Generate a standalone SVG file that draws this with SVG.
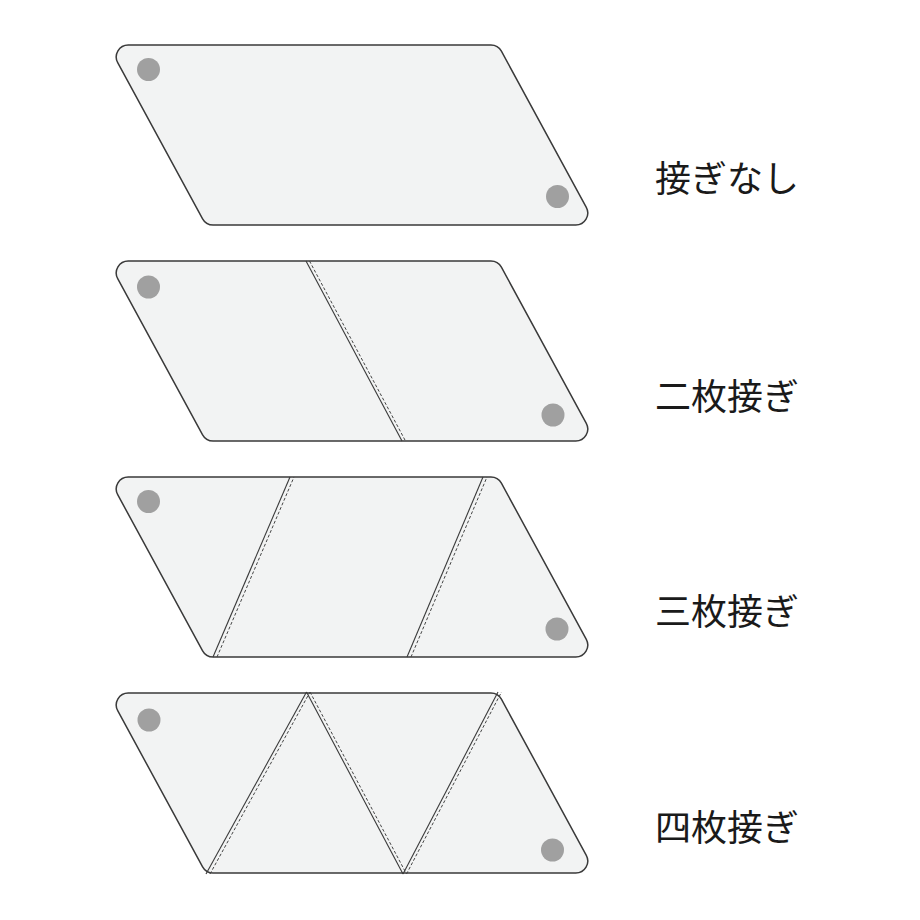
<svg xmlns="http://www.w3.org/2000/svg" width="920" height="920" viewBox="0 0 920 920">
<style>
.panel{fill:#f2f3f3;stroke:#3a3a3a;stroke-width:1.5}
.seam{fill:none;stroke:#3a3a3a;stroke-width:1.1}
.stitch{fill:none;stroke:#444;stroke-width:1;stroke-dasharray:3 2}
.dot{fill:#a0a0a0}
.lbl{font-family:"Noto Sans CJK JP","Noto Sans",sans-serif;font-size:36px;fill:#1a1a1a}
</style>
<defs>
<path id="shape" d="M128.2,0 H490.9 A12,12 0 0 1 501.4,6.2 L586.3,162.3 A12,12 0 0 1 575.8,180 H213.1 A12,12 0 0 1 202.6,173.8 L117.7,17.7 A12,12 0 0 1 128.2,0 Z"/>
</defs>
<rect width="920" height="920" fill="#fff"/>
<g id="row1" transform="translate(0,45)">
<use href="#shape" class="panel"/>
<circle class="dot" cx="148.5" cy="24.5" r="11.5"/>
<circle class="dot" cx="557.5" cy="151.5" r="11.5"/>
</g>
<g id="row2" transform="translate(0,261)">
<use href="#shape" class="panel"/>
<line class="seam" x1="306" y1="0" x2="402" y2="180"/>
<line class="stitch" x1="309.5" y1="0" x2="405.5" y2="180"/>
<circle class="dot" cx="148.5" cy="26" r="11.5"/>
<circle class="dot" cx="553" cy="154" r="11.5"/>
</g>
<g id="row3" transform="translate(0,477)">
<use href="#shape" class="panel"/>
<line class="seam" x1="213" y1="180" x2="290" y2="0"/>
<line class="stitch" x1="217" y1="180" x2="294" y2="0"/>
<line class="seam" x1="407" y1="180" x2="483" y2="0"/>
<line class="stitch" x1="411" y1="180" x2="487" y2="0"/>
<circle class="dot" cx="148.5" cy="24.5" r="11.5"/>
<circle class="dot" cx="557" cy="152" r="11.5"/>
</g>
<g id="row4" transform="translate(0,693)">
<use href="#shape" class="panel"/>
<line class="seam" x1="206" y1="181" x2="306.5" y2="-1"/>
<line class="stitch" x1="210" y1="181" x2="310" y2="-1"/>
<line class="seam" x1="306.5" y1="-1" x2="403" y2="181"/>
<line class="stitch" x1="310" y1="-1" x2="406.5" y2="181"/>
<line class="seam" x1="403" y1="181" x2="498" y2="-1"/>
<line class="stitch" x1="406.5" y1="181" x2="501.5" y2="-1"/>
<circle class="dot" cx="149" cy="27" r="11.5"/>
<circle class="dot" cx="552.5" cy="157" r="11.5"/>
</g>
<g id="connectors"/>
<g id="labels">
<text id="label1" class="lbl" x="655" y="192">接ぎなし</text>
<text id="label2" class="lbl" x="655" y="410">二枚接ぎ</text>
<text id="label3" class="lbl" x="655" y="625">三枚接ぎ</text>
<text id="label4" class="lbl" x="655" y="841">四枚接ぎ</text>
</g>
</svg>
